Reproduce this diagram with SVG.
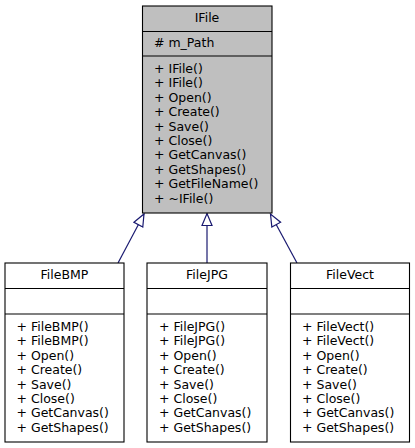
<svg xmlns="http://www.w3.org/2000/svg" width="415" height="448" viewBox="0 0 415 448">
<style>
.box{stroke:#000;stroke-width:1.1;fill:#fff}
.base{fill:#bfbfbf}
.div{stroke:#000;stroke-width:1.1}
text{font-family:"DejaVu Sans",sans-serif;font-size:12.5px;fill:#000}
.c{text-anchor:middle}
.edge{stroke:#191970;stroke-width:1.2;fill:none}
</style>
<defs>
<marker id="tri" markerUnits="userSpaceOnUse" markerWidth="16" markerHeight="14" refX="13" refY="6" orient="auto">
<path d="M1,1 L13,6 L1,11 Z" fill="#fff" stroke="#191970" stroke-width="1.2"/>
</marker>
</defs>
<g id="connectors">
<line class="edge" x1="118" y1="263" x2="144" y2="214" marker-end="url(#tri)"/>
<line class="edge" x1="207" y1="263" x2="207" y2="213.5" marker-end="url(#tri)"/>
<line class="edge" x1="297" y1="263" x2="270.5" y2="214" marker-end="url(#tri)"/>
</g>
<g id="IFile">
<rect class="box base" x="142.5" y="6" width="129.5" height="207"/>
<line class="div" x1="142.5" y1="31.5" x2="272" y2="31.5"/>
<line class="div" x1="142.5" y1="56" x2="272" y2="56"/>
<text class="c" x="207" y="21.5">IFile</text>
<text x="154" y="47">#  m_Path</text>
<text x="154" y="73">+ IFile()</text>
<text x="154" y="87.4">+ IFile()</text>
<text x="154" y="101.8">+ Open()</text>
<text x="154" y="116.2">+ Create()</text>
<text x="154" y="130.6">+ Save()</text>
<text x="154" y="145">+ Close()</text>
<text x="154" y="159.4">+ GetCanvas()</text>
<text x="154" y="173.8">+ GetShapes()</text>
<text x="154" y="188.2">+ GetFileName()</text>
<text x="154" y="202.6">+ ~IFile()</text>
</g>
<g id="FileBMP">
<rect class="box" x="5" y="263" width="119" height="179"/>
<line class="div" x1="5" y1="288.5" x2="124" y2="288.5"/>
<line class="div" x1="5" y1="314" x2="124" y2="314"/>
<text class="c" x="64.5" y="279">FileBMP</text>
<text x="16.5" y="331">+ FileBMP()</text>
<text x="16.5" y="345.4">+ FileBMP()</text>
<text x="16.5" y="359.8">+ Open()</text>
<text x="16.5" y="374.2">+ Create()</text>
<text x="16.5" y="388.6">+ Save()</text>
<text x="16.5" y="403">+ Close()</text>
<text x="16.5" y="417.4">+ GetCanvas()</text>
<text x="16.5" y="431.8">+ GetShapes()</text>
</g>
<g id="FileJPG">
<rect class="box" x="147" y="263" width="120" height="179"/>
<line class="div" x1="147" y1="288.5" x2="267" y2="288.5"/>
<line class="div" x1="147" y1="314" x2="267" y2="314"/>
<text class="c" x="207" y="279">FileJPG</text>
<text x="159" y="331">+ FileJPG()</text>
<text x="159" y="345.4">+ FileJPG()</text>
<text x="159" y="359.8">+ Open()</text>
<text x="159" y="374.2">+ Create()</text>
<text x="159" y="388.6">+ Save()</text>
<text x="159" y="403">+ Close()</text>
<text x="159" y="417.4">+ GetCanvas()</text>
<text x="159" y="431.8">+ GetShapes()</text>
</g>
<g id="FileVect">
<rect class="box" x="290.5" y="263" width="119" height="179"/>
<line class="div" x1="290.5" y1="288.5" x2="409.5" y2="288.5"/>
<line class="div" x1="290.5" y1="314" x2="409.5" y2="314"/>
<text class="c" x="350" y="279">FileVect</text>
<text x="302" y="331">+ FileVect()</text>
<text x="302" y="345.4">+ FileVect()</text>
<text x="302" y="359.8">+ Open()</text>
<text x="302" y="374.2">+ Create()</text>
<text x="302" y="388.6">+ Save()</text>
<text x="302" y="403">+ Close()</text>
<text x="302" y="417.4">+ GetCanvas()</text>
<text x="302" y="431.8">+ GetShapes()</text>
</g>
</svg>
